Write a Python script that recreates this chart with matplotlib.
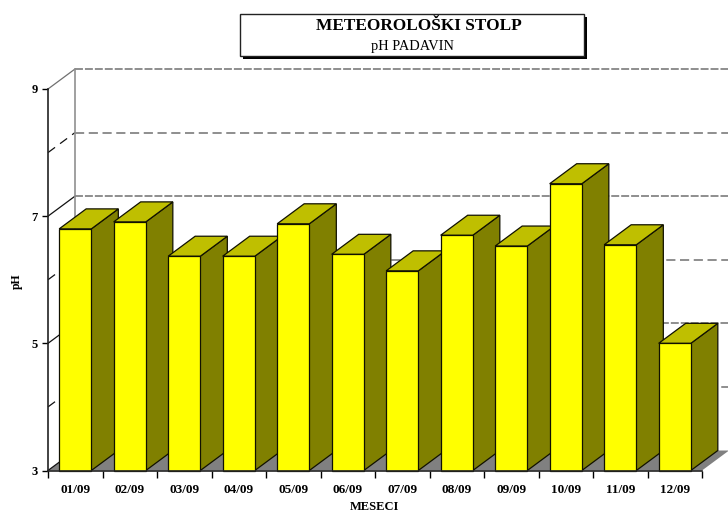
import matplotlib
matplotlib.use('Agg')
import matplotlib.pyplot as plt
from matplotlib.patches import Polygon, Rectangle

plt.rcParams['font.family'] = ['Liberation Serif', 'DejaVu Serif']

months = ['01/09', '02/09', '03/09', '04/09', '05/09', '06/09',
          '07/09', '08/09', '09/09', '10/09', '11/09', '12/09']
ph = [6.80, 6.91, 6.37, 6.37, 6.88, 6.40, 6.14, 6.70, 6.53, 7.51, 6.55, 5.00]
major_y = [3, 5, 7, 9]
minor_y = [4, 6, 8]

W, H = 728, 513
fig = plt.figure(figsize=(W / 100, H / 100), dpi=100)

# front plane of the 3d box, in pixels
left, right, top, bottom = 48, 702, 89, 470.5
ax = fig.add_axes([left / W, 1 - bottom / H, (right - left) / W, (bottom - top) / H])
ax.set_xlim(0, len(months))
ax.set_ylim(3, 9)
ax.patch.set_visible(False)

# depth of the box in data units
dx = 27 / ((right - left) / len(months))
dy = 20 / ((bottom - top) / 6)
bar_w = 0.59
n = len(months)


def poly(pts, fc, ec='none', lw=0.0, z=1):
    ax.add_patch(Polygon(pts, closed=True, facecolor=fc, edgecolor=ec, linewidth=lw,
                         zorder=z, clip_on=False, joinstyle='miter'))


# floor
poly([(0, 3), (n, 3), (n + dx, 3 + dy), (dx, 3 + dy)], '#808080', z=1)

# back wall grid and side wall lines
for v in major_y + minor_y:
    dash = (0, (5.2, 1.3)) if v in major_y else (0, (6, 3))
    if v > 3:
        ax.plot([dx, n + dx], [v + dy, v + dy], color='#707070', lw=1.1, ls=dash,
                clip_on=False, zorder=1.5)
    side_ls = '-' if v in major_y else (0, (7, 5))
    side_c = '#707070' if v == 9 else '#111111'
    ax.plot([0, dx], [v, v + dy], color=side_c, lw=0.9, ls=side_ls, clip_on=False, zorder=1.5)
ax.plot([dx, dx], [3 + dy, 9 + dy], color='#909090', lw=1.2, clip_on=False, zorder=1.6)

# bars, left to right so each front covers the side before it
for i, v in enumerate(ph):
    x0 = i + 0.5 - bar_w / 2
    x1 = x0 + bar_w
    z = 3 + i
    poly([(x1, 3), (x1 + dx, 3 + dy), (x1 + dx, v + dy), (x1, v)], '#808000', '#111100', 0.9, z)
    poly([(x0, v), (x1, v), (x1 + dx, v + dy), (x0 + dx, v + dy)], '#BFBF00', '#111100', 0.9, z)
    poly([(x0, 3), (x1, 3), (x1, v), (x0, v)], '#FFFF00', '#111100', 0.9, z)

# axes lines and ticks
for s in ['top', 'right']:
    ax.spines[s].set_visible(False)
for s in ['left', 'bottom']:
    ax.spines[s].set_linewidth(1.2)
    ax.spines[s].set_color('#222222')
    ax.spines[s].set_zorder(30)

ax.set_yticks(major_y)
ax.set_yticklabels([str(v) for v in major_y], fontsize=9, fontweight='bold')
ax.tick_params(axis='y', length=4.5, width=1, pad=3)

ax.set_xticks(range(n + 1))
ax.set_xticklabels([])
ax.tick_params(axis='x', which='major', length=5, width=1)
ax.set_xticks([i + 0.5 for i in range(n)], minor=True)
ax.set_xticklabels(months, minor=True, fontsize=9.5, fontweight='bold')
ax.tick_params(axis='x', which='minor', length=0, pad=9.5)

fig.text(17 / W, 1 - 281 / H, 'pH', rotation=90, ha='center', va='center',
         fontsize=8.5, fontweight='bold')
fig.text(374 / W, 1 - 507 / H, 'MESECI', ha='center', va='center',
         fontsize=9, fontweight='bold')

# title box with shadow
fig.add_artist(Rectangle((243 / W, 1 - 59 / H), 344 / W, 42 / H, transform=fig.transFigure,
                         facecolor='black', edgecolor='none'))
fig.add_artist(Rectangle((240 / W, 1 - 56 / H), 344 / W, 42 / H, transform=fig.transFigure,
                         facecolor='white', edgecolor='#222222', linewidth=1))
fig.text(419 / W, 1 - 25.5 / H, 'METEOROLOŠKI STOLP', ha='center', va='center',
         fontsize=12.4, fontweight='bold')
fig.text(412 / W, 1 - 47 / H, 'pH PADAVIN', ha='center', va='center', fontsize=10.4)

fig.savefig('out.png', dpi=100)
